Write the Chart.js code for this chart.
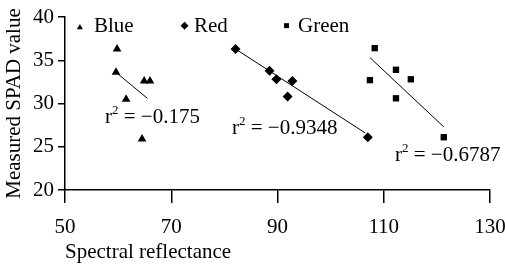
<!DOCTYPE html>
<html lang="en">
<head>
  <meta charset="UTF-8" />
  <title>SPAD vs spectral reflectance</title>
  <script src="https://cdn.jsdelivr.net/npm/chart.js"></script>
  <style>
    html, body { margin: 0; padding: 0; background: #fff; }
    #wrap { width: 505px; height: 268px; }
  </style>
</head>
<body>
  <div id="wrap"><canvas id="chart" width="505" height="268"></canvas></div>
  <script>
    // measured points
    const blueX = [59.8, 59.6, 61.5, 64.9, 66.0, 64.5];
    const blueY = [36.3, 33.6, 30.5, 32.6, 32.6, 25.9];
    const redX = [82.1, 88.5, 89.8, 92.8, 91.9, 107.0];
    const redY = [36.3, 33.8, 32.8, 32.6, 30.8, 26.1];
    const greenX = [108.3, 112.3, 107.4, 115.1, 112.3, 121.3];
    const greenY = [36.4, 33.9, 32.7, 32.8, 30.6, 26.1];

    // fitted lines (end points)
    const blueFitX = [59.6, 65.5];
    const blueFitY = [33.6, 30.6];
    const redFitX = [82.1, 106.5];
    const redFitY = [36.3, 26.6];
    const greenFitX = [107.4, 121.3];
    const greenFitY = [35.3, 27.3];

    // legend marker spots
    const legendX = [52.8, 72.5, 91.7];
    const legendY = [38.8, 39.0, 39.0];
    const legendNames = ['Blue', 'Red', 'Green'];
    const r2Values = ['\u22120.175', '\u22120.9348', '\u22120.6787'];

    const xTicks = [50, 70, 90, 110, 130];
    const yTicks = [20, 25, 30, 35, 40];

    const pts = (xs, ys) => xs.map((x, i) => ({ x, y: ys[i] }));
    const serif = '"Liberation Serif", "DejaVu Serif", serif';

    function markers(xs, ys, style, r) {
      return { data: pts(xs, ys), pointStyle: style, pointRadius: r, pointHoverRadius: r,
        backgroundColor: '#000', borderColor: '#000', borderWidth: 0, showLine: false };
    }
    function fit(xs, ys) {
      return { data: pts(xs, ys), showLine: true, pointRadius: 0, borderColor: '#000',
        borderWidth: 1, fill: false };
    }

    const textPlugin = {
      id: 'texts',
      afterDatasetsDraw(chart) {
        const ctx = chart.ctx;
        ctx.save();
        ctx.fillStyle = '#000';
        ctx.textBaseline = 'middle';
        ctx.font = '21px ' + serif;
        // legend labels
        const legendText = [[94, 26], [194, 26], [298, 26]];
        legendNames.forEach((n, i) => ctx.fillText(n, legendText[i][0], legendText[i][1]));
        // r squared labels
        const spots = [[105, 117], [232, 128], [395, 155]];
        r2Values.forEach((v, i) => {
          let [x, y] = spots[i];
          ctx.font = '21px ' + serif;
          ctx.fillText('r', x, y);
          x += ctx.measureText('r').width;
          ctx.font = '13px ' + serif;
          ctx.fillText('2', x, y - 6);
          x += ctx.measureText('2').width;
          ctx.font = '21px ' + serif;
          ctx.fillText(' = ' + v, x, y);
        });
        ctx.restore();
      }
    };

    new Chart(document.getElementById('chart'), {
      type: 'scatter',
      data: {
        datasets: [
          markers(blueX, blueY, 'triangle', 5),
          markers(redX, redY, 'rectRot', 5),
          markers(greenX, greenY, 'rect', 4.5),
          fit(blueFitX, blueFitY),
          fit(redFitX, redFitY),
          fit(greenFitX, greenFitY),
          { data: pts(legendX, legendY), pointStyle: ['triangle', 'rectRot', 'rect'],
            pointRadius: [3.5, 4, 3.5], backgroundColor: '#000', borderWidth: 0, showLine: false }
        ]
      },
      options: {
        responsive: false,
        animation: false,
        events: [],
        layout: { padding: { top: 17, right: 15, left: 0, bottom: 0 } },
        plugins: { legend: { display: false }, tooltip: { enabled: false } },
        scales: {
          x: {
            type: 'linear', min: 50, max: 130,
            afterBuildTicks: s => { s.ticks = xTicks.map(v => ({ value: v })); },
            afterFit: s => { s.height = 78; s.paddingLeft = 0; s.paddingRight = 0; },
            grid: { drawOnChartArea: false, tickLength: 13, color: '#000', lineWidth: 1.5 },
            border: { display: true, color: '#000', width: 1.5 },
            ticks: { color: '#000', font: { family: serif, size: 21 }, padding: 12, maxRotation: 0 },
            title: { display: true, text: 'Spectral reflectance', align: 'start', color: '#000',
              font: { family: serif, size: 21 }, padding: { top: 0, bottom: 3 } }
          },
          y: {
            type: 'linear', min: 20, max: 40,
            afterBuildTicks: s => { s.ticks = yTicks.map(v => ({ value: v })); },
            afterFit: s => { s.width = 65; s.paddingTop = 0; s.paddingBottom = 0; },
            grid: { drawOnChartArea: false, tickLength: 7, color: '#000', lineWidth: 1.5 },
            border: { display: true, color: '#000', width: 1.5 },
            ticks: { color: '#000', font: { family: serif, size: 21 }, padding: 4 },
            title: { display: true, text: 'Measured SPAD value', color: '#000',
              font: { family: serif, size: 21 }, padding: { top: 2, bottom: 0 } }
          }
        }
      },
      plugins: [textPlugin]
    });
  </script>
</body>
</html>
